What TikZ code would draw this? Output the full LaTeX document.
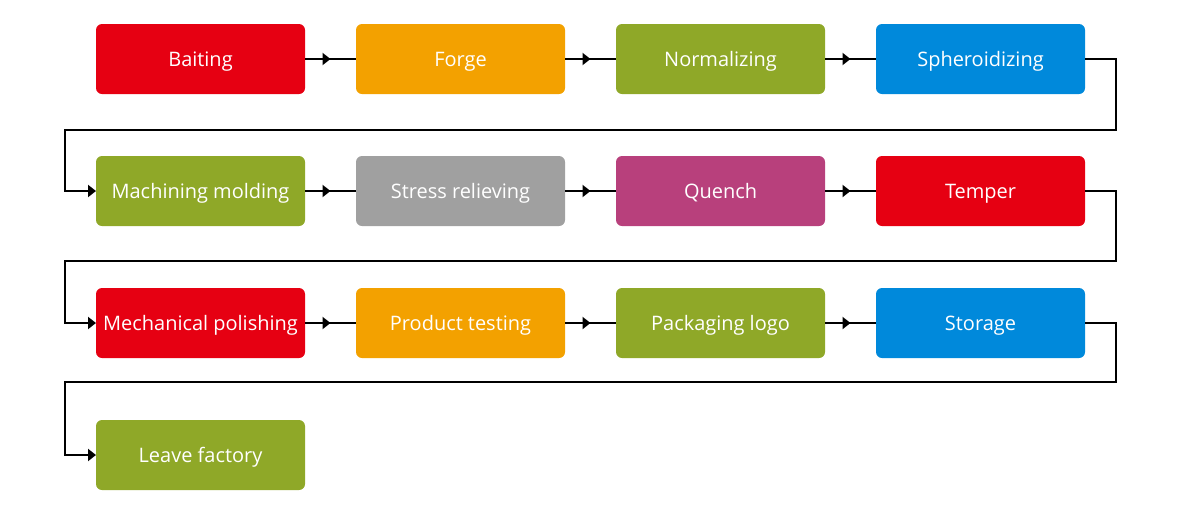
\documentclass[tikz,border=0pt]{standalone}
\usepackage{fontspec}
\setmainfont{Open Sans}
\usepackage{xcolor}
\usetikzlibrary{arrows.meta,positioning,decorations.markings}

\definecolor{pred}{RGB}{230,0,18}
\definecolor{porange}{RGB}{243,161,0}
\definecolor{pgreen}{RGB}{143,168,40}
\definecolor{pblue}{RGB}{0,137,219}
\definecolor{pgray}{RGB}{160,160,160}
\definecolor{ppurple}{RGB}{184,64,124}

\begin{document}
\begin{tikzpicture}[
stage/.style={rectangle, rounded corners=0.15cm, align=center, minimum width=5.225cm, minimum height=1.75cm, inner sep=0pt, outer sep=0pt, text height=12pt, text depth=1.9pt, text=white, font=\fontsize{14.2}{17}\selectfont},
link/.style={line width=0.05cm, postaction={decorate}, decoration={markings, mark=at position 0.5 with {\arrow{Triangle[length=0.2cm, width=0.3cm]}}}},
wrap/.style={line width=0.05cm, -{Triangle[length=0.2cm, width=0.3cm]}},
node distance=1.55cm and 1.275cm
]
\useasboundingbox (0,0) rectangle (29.5,-12.75);

% Row 1
\node[stage, fill=pred] (baiting) at (5.0125,-1.475) {Baiting};
\node[stage, fill=porange, right=of baiting] (forge) {Forge};
\node[stage, fill=pgreen, right=of forge] (normal) {Normalizing};
\node[stage, fill=pblue, right=of normal] (spher) {Spheroidizing};

% Row 2
\node[stage, fill=pgreen, below=of baiting] (machining) {Machining molding};
\node[stage, fill=pgray, right=of machining] (stress) {Stress relieving};
\node[stage, fill=ppurple, right=of stress] (quench) {Quench};
\node[stage, fill=pred, right=of quench] (temper) {Temper};

% Row 3
\node[stage, fill=pred, below=of machining] (polish) {Mechanical polishing};
\node[stage, fill=porange, right=of polish] (testing) {Product testing};
\node[stage, fill=pgreen, right=of testing] (packing) {Packaging logo};
\node[stage, fill=pblue, right=of packing] (storage) {Storage};

% Row 4
\node[stage, fill=pgreen, below=of polish] (leave) {Leave factory};

% Connections
\draw[link] (baiting) -- (forge);
\draw[link] (forge) -- (normal);
\draw[link] (normal) -- (spher);
\draw[wrap] (spher.east) -- ++(0.775,0) -- ++(0,-1.775) -| ([xshift=-0.775cm]machining.west) -- (machining.west);

\draw[link] (machining) -- (stress);
\draw[link] (stress) -- (quench);
\draw[link] (quench) -- (temper);
\draw[wrap] (temper.east) -- ++(0.775,0) -- ++(0,-1.75) -| ([xshift=-0.775cm]polish.west) -- (polish.west);

\draw[link] (polish) -- (testing);
\draw[link] (testing) -- (packing);
\draw[link] (packing) -- (storage);
\draw[wrap] (storage.east) -- ++(0.775,0) -- ++(0,-1.475) -| ([xshift=-0.775cm]leave.west) -- (leave.west);

\end{tikzpicture}
\end{document}
